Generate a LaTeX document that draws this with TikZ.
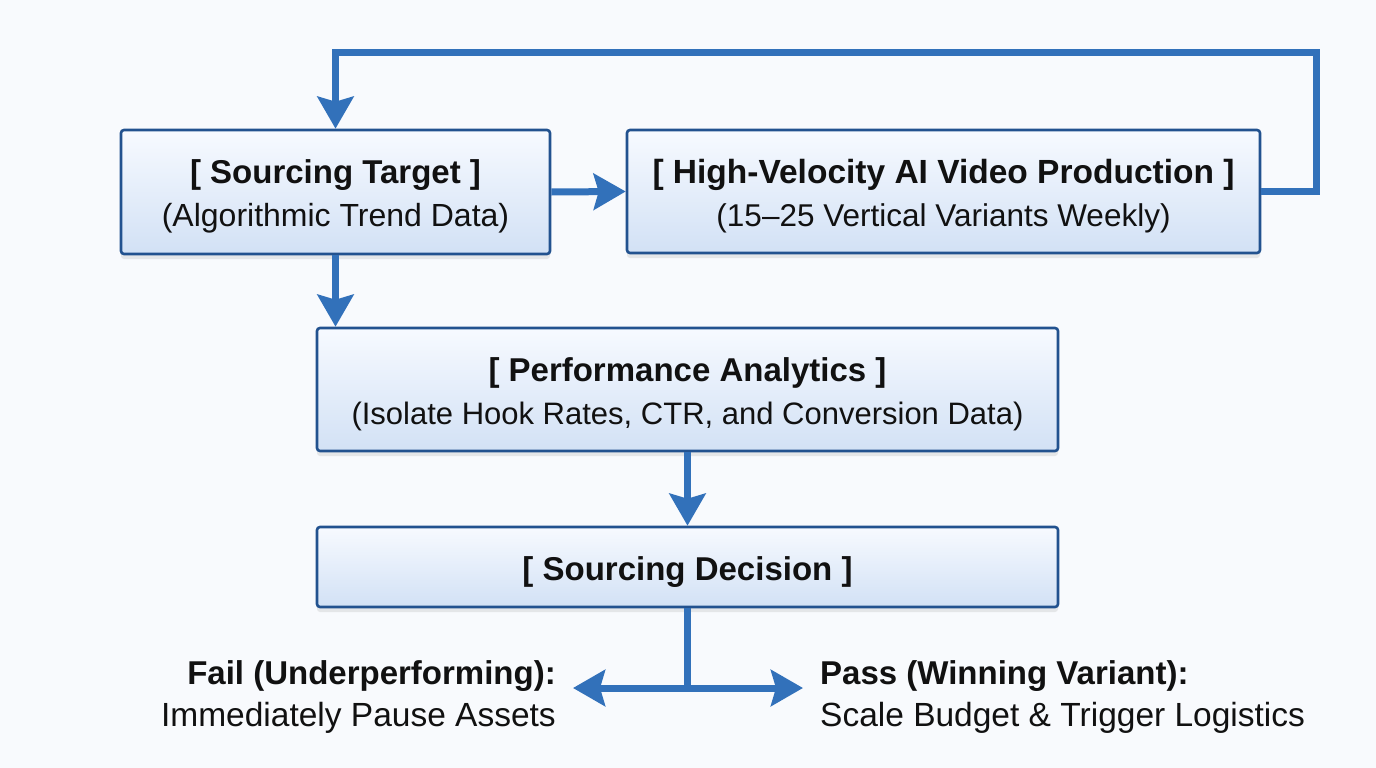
\documentclass[tikz,border=0pt]{standalone}
\usepackage{fontspec}
\setmainfont{Liberation Sans}
\usetikzlibrary{arrows.meta,shadows}
\definecolor{bgc}{HTML}{F8FAFD}
\definecolor{boxtop}{HTML}{F7FAFF}
\definecolor{boxbot}{HTML}{D2E1F5}
\definecolor{boxedge}{HTML}{22528F}
\definecolor{flowc}{HTML}{3271BA}
\definecolor{txt}{HTML}{111111}
\newcommand{\topstrut}{\rule{0pt}{33pt}}
\tikzset{
  box/.style={draw=boxedge, line width=2.6pt, rounded corners=3pt,
    top color=boxtop, bottom color=boxbot, inner sep=0pt,
    drop shadow={opacity=0.16, shadow xshift=0pt, shadow yshift=-5pt},
    align=center, text=txt, font=\fontsize{33}{43}\selectfont},
  flow/.style={draw=flowc, line width=7pt,
    -{Stealth[length=32pt,width=36pt,inset=5pt]}},
  flowline/.style={draw=flowc, line width=7pt},
  lbl/.style={text=txt, inner sep=0pt},
}
\begin{document}
\begin{tikzpicture}[x=1pt,y=-1pt]
\fill[bgc] (0,0) rectangle (1376,768);
\useasboundingbox (0,0) rectangle (1376,768);

\node[box, minimum width=429pt, minimum height=124pt] (A) at (335.5,192)
  {{\topstrut\bfseries [ Sourcing Target ]}\\{\fontsize{32}{43}\selectfont (Algorithmic Trend Data)}};
\node[box, minimum width=633pt, minimum height=123pt] (B) at (943.5,191.5)
  {{\topstrut\fontsize{33.5}{43}\selectfont\bfseries [ High-Velocity AI Video Production ]}\\{\fontsize{31.5}{43}\selectfont (15–25 Vertical Variants Weekly)}};
\node[box, minimum width=741pt, minimum height=123pt] (C) at (687.5,389.5)
  {{\topstrut\bfseries [ Performance Analytics ]}\\{\fontsize{31}{43}\selectfont (Isolate Hook Rates, CTR, and Conversion Data)}};
\node[box, minimum width=741pt, minimum height=80pt] (D) at (687.5,567)
  {\topstrut\bfseries [ Sourcing Decision ]};

\coordinate (loop) at (1316,53);
\coordinate (split) at (687.5,688);
\coordinate (failtip) at (573,688);
\coordinate (passtip) at (803,688);

\draw[flow] (B.east) -| (loop) -| (A.north);
\draw[flow] (A.east) -- (B.west);
\draw[flow] (A.south) -- (A.south |- C.north);
\draw[flow] (C.south) -- (D.north);
\draw[flowline] (D.south) -- (split);
\draw[flow] ([xshift=3.5pt]split) -- (failtip);
\draw[flow] ([xshift=-3.5pt]split) -- (passtip);

\node[lbl, anchor=base east, font=\fontsize{33}{43}\selectfont\bfseries] (fail1) at (556,684) {Fail (Underperforming):};
\node[lbl, anchor=base east, font=\fontsize{33.5}{43}\selectfont] (fail2) at (556,726) {Immediately Pause Assets};
\node[lbl, anchor=base west, font=\fontsize{33}{43}\selectfont\bfseries] (pass1) at (820,684) {Pass (Winning Variant):};
\node[lbl, anchor=base west, font=\fontsize{33.5}{43}\selectfont] (pass2) at (820,726) {Scale Budget \& Trigger Logistics};
\end{tikzpicture}
\end{document}
